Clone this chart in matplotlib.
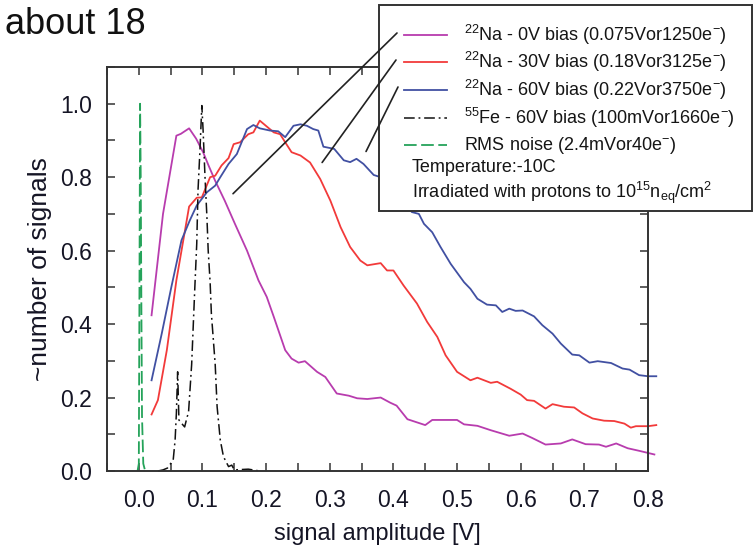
import matplotlib
matplotlib.use('Agg')
import matplotlib.pyplot as plt
from matplotlib.lines import Line2D
from matplotlib.patches import Rectangle, ConnectionPatch
from matplotlib.ticker import MultipleLocator

plt.rcParams['font.family'] = ['Liberation Sans', 'DejaVu Sans']
plt.rcParams['mathtext.fontset'] = 'custom'
plt.rcParams['mathtext.rm'] = 'Liberation Sans'
plt.rcParams['mathtext.it'] = 'Liberation Sans:italic'
plt.rcParams['mathtext.default'] = 'regular'

# ---------------- data ----------------
na0_x = [0.020, 0.038, 0.059, 0.066, 0.079, 0.090, 0.101, 0.110, 0.120, 0.135, 0.151, 0.170,
         0.188, 0.201, 0.212, 0.230, 0.240, 0.251, 0.261, 0.280, 0.293, 0.311, 0.330, 0.343,
         0.359, 0.380, 0.395, 0.405, 0.422, 0.450, 0.461, 0.500, 0.511, 0.532, 0.553, 0.582,
         0.603, 0.618, 0.639, 0.663, 0.681, 0.702, 0.723, 0.734, 0.750, 0.768, 0.786, 0.810]
na0_y = [0.424, 0.700, 0.913, 0.918, 0.933, 0.905, 0.868, 0.830, 0.790, 0.736, 0.673, 0.600,
         0.519, 0.474, 0.420, 0.329, 0.306, 0.295, 0.299, 0.270, 0.256, 0.211, 0.205, 0.198,
         0.196, 0.200, 0.186, 0.178, 0.141, 0.125, 0.139, 0.139, 0.127, 0.123, 0.111, 0.096,
         0.102, 0.090, 0.072, 0.075, 0.086, 0.073, 0.072, 0.066, 0.075, 0.062, 0.055, 0.045]

na30_x = [0.020, 0.030, 0.044, 0.059, 0.079, 0.091, 0.099, 0.112, 0.120, 0.130, 0.141, 0.149,
          0.159, 0.172, 0.180, 0.190, 0.201, 0.212, 0.222, 0.230, 0.240, 0.254, 0.269, 0.285,
          0.301, 0.317, 0.332, 0.348, 0.359, 0.380, 0.390, 0.400, 0.416, 0.437, 0.453, 0.469,
          0.482, 0.500, 0.521, 0.532, 0.553, 0.563, 0.584, 0.600, 0.610, 0.621, 0.639, 0.650,
          0.668, 0.684, 0.697, 0.713, 0.731, 0.747, 0.763, 0.773, 0.781, 0.800, 0.813]
na30_y = [0.154, 0.193, 0.329, 0.519, 0.720, 0.744, 0.745, 0.800, 0.804, 0.832, 0.852, 0.890,
          0.895, 0.917, 0.922, 0.954, 0.938, 0.922, 0.917, 0.895, 0.868, 0.859, 0.840, 0.795,
          0.736, 0.664, 0.610, 0.573, 0.560, 0.566, 0.546, 0.546, 0.505, 0.456, 0.406, 0.365,
          0.315, 0.270, 0.247, 0.254, 0.240, 0.243, 0.224, 0.208, 0.193, 0.191, 0.170, 0.182,
          0.175, 0.173, 0.157, 0.143, 0.137, 0.136, 0.129, 0.118, 0.122, 0.122, 0.125]

na60_x = [0.020, 0.036, 0.051, 0.067, 0.080, 0.091, 0.107, 0.120, 0.128, 0.141, 0.154, 0.170,
          0.180, 0.190, 0.206, 0.219, 0.230, 0.243, 0.254, 0.264, 0.274, 0.282, 0.290, 0.307,
          0.322, 0.332, 0.342, 0.353, 0.369, 0.380, 0.395, 0.410, 0.429, 0.440, 0.448, 0.461,
          0.474, 0.490, 0.511, 0.521, 0.532, 0.547, 0.561, 0.571, 0.582, 0.592, 0.603, 0.621,
          0.634, 0.650, 0.663, 0.681, 0.692, 0.708, 0.721, 0.742, 0.760, 0.771, 0.786, 0.800, 0.813]
na60_y = [0.247, 0.374, 0.500, 0.628, 0.682, 0.723, 0.759, 0.777, 0.800, 0.836, 0.863, 0.931,
          0.942, 0.933, 0.927, 0.925, 0.909, 0.940, 0.944, 0.940, 0.931, 0.927, 0.883, 0.877,
          0.846, 0.841, 0.850, 0.836, 0.806, 0.800, 0.775, 0.745, 0.705, 0.700, 0.673, 0.650,
          0.610, 0.564, 0.514, 0.496, 0.469, 0.453, 0.451, 0.433, 0.442, 0.436, 0.437, 0.421,
          0.397, 0.374, 0.347, 0.317, 0.315, 0.295, 0.299, 0.294, 0.279, 0.276, 0.261, 0.258, 0.258]

fe_x = [0.030, 0.038, 0.045, 0.054, 0.057, 0.059, 0.061, 0.063, 0.067, 0.072, 0.076, 0.078,
        0.083, 0.088, 0.091, 0.093, 0.096, 0.099, 0.101, 0.104, 0.107, 0.109, 0.112, 0.114,
        0.120, 0.123, 0.128, 0.133, 0.141, 0.146, 0.150, 0.172, 0.190]
fe_y = [0.000, 0.003, 0.008, 0.030, 0.084, 0.157, 0.270, 0.139, 0.130, 0.120, 0.148, 0.157,
        0.290, 0.500, 0.619, 0.764, 0.872, 0.995, 0.927, 0.800, 0.691, 0.600, 0.515, 0.428,
        0.290, 0.175, 0.084, 0.039, 0.012, 0.016, 0.003, 0.005, 0.000]

rms_x = [-0.002, 0.000, 0.001, 0.002, 0.003, 0.004, 0.005, 0.007, 0.010]
rms_y = [0.000, 0.020, 0.500, 1.000, 0.800, 0.450, 0.150, 0.020, 0.000]

labels = [r'$^{22}$Na - 0V bias (0.075Vor1250e$^{-}$)',
          r'$^{22}$Na - 30V bias (0.18Vor3125e$^{-}$)',
          r'$^{22}$Na - 60V bias (0.22Vor3750e$^{-}$)',
          r'$^{55}$Fe - 60V bias (100mVor1660e$^{-}$)',
          r'RMS noise (2.4mVor40e$^{-}$)']
notes = ['Temperature:-10C', r'Irradiated with protons to 10$^{15}$n$_{eq}$/cm$^{2}$']

x_ticks = [0.0, 0.1, 0.2, 0.3, 0.4, 0.5, 0.6, 0.7, 0.8]
y_ticks = [0.0, 0.2, 0.4, 0.6, 0.8, 1.0]

# ---------------- figure ----------------
W, H = 754, 547
fig = plt.figure(figsize=(W / 100, H / 100), dpi=100)
ax = fig.add_axes([107 / W, 76 / H, 541 / W, 404 / H])

def fp(px, py):
    return (px / W, 1 - py / H)

c_mag = '#b83cae'
c_red = '#f23a3a'
c_blu = '#4150a2'
c_fe = '#111111'
c_grn = '#25a35a'

styles = [
    dict(color=c_mag, lw=1.3, ls='-'),
    dict(color=c_red, lw=1.3, ls='-'),
    dict(color=c_blu, lw=1.3, ls='-'),
    dict(color=c_fe, lw=1.1, ls=(0, (7, 2.5, 1.2, 2.5))),
    dict(color=c_grn, lw=1.3, ls=(0, (7, 2.5))),
]
series = [(na0_x, na0_y), (na30_x, na30_y), (na60_x, na60_y), (fe_x, fe_y), (rms_x, rms_y)]
for (xs, ys), st in zip(series, styles):
    ax.plot(xs, ys, clip_on=False, zorder=2, **st)

ax.set_xlim(-0.05, 0.8)
ax.set_ylim(0, 1.1)
ax.set_xticks(x_ticks)
ax.set_xticklabels([f'{v:.1f}' for v in x_ticks])
ax.set_yticks(y_ticks)
ax.set_yticklabels([f'{v:.1f}' for v in y_ticks])
ax.xaxis.set_minor_locator(MultipleLocator(0.05))
ax.yaxis.set_minor_locator(MultipleLocator(0.1))
ax.tick_params(which='both', direction='in', top=True, right=True, length=6,
               width=1.1, color='#333333', labelsize=16.5, labelcolor='#151525')
ax.tick_params(axis='x', which='major', pad=13)
ax.tick_params(axis='y', which='major', pad=11)
for s in ax.spines.values():
    s.set_color('#333333')
    s.set_linewidth(1.4)

ax.set_xlabel('signal amplitude [V]', fontsize=17, color='#151525', labelpad=8)
ax.set_ylabel('~number of signals', fontsize=19, color='#151525', labelpad=6)

fig.text(5 / W, 1 - 25 / H, 'about 18', fontsize=26, va='center', ha='left', color='#111111')

# legend box
x0, y0 = fp(379, 211)
x1, y1 = fp(752, 5)
fig.add_artist(Rectangle((x0, y0), x1 - x0, y1 - y0, transform=fig.transFigure,
                         facecolor='white', edgecolor='#333333', lw=1.4, zorder=3))
rows = [35, 62, 90, 118, 145]
for lab, st, r in zip(labels, styles, rows):
    a = fp(404, r)
    b = fp(447, r)
    fig.add_artist(Line2D([a[0], b[0]], [a[1], b[1]], transform=fig.transFigure,
                          zorder=4, **st))
    tx, ty = fp(464, r)
    fig.text(tx, ty, lab, fontsize=13, va='center', ha='left', color='#151515', zorder=4)
for note, r in zip(notes, [167, 193]):
    tx, ty = fp(412, r)
    fig.text(tx, ty, note, fontsize=13, va='center', ha='left', color='#151515', zorder=4)

# pointer lines from legend to curves
pointers = [((0.148, 0.755), (397, 33)),
            ((0.288, 0.840), (396, 60)),
            ((0.357, 0.870), (398, 87))]
for (dx, dy), (px, py) in pointers:
    con = ConnectionPatch(xyA=(dx, dy), coordsA=ax.transData,
                          xyB=fp(px, py), coordsB=fig.transFigure,
                          color='#222222', lw=1.2, zorder=5)
    fig.add_artist(con)

fig.savefig('out.png', dpi=100)
